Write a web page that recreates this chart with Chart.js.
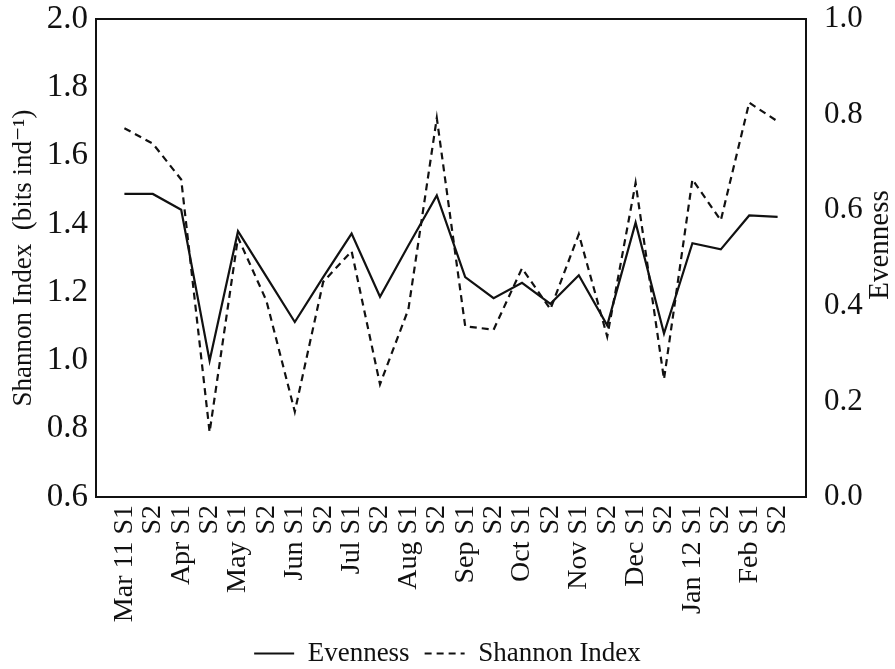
<!DOCTYPE html>
<html>
<head>
<meta charset="utf-8">
<script src="https://cdn.jsdelivr.net/npm/chart.js@4.4.1/dist/chart.umd.min.js"></script>
<style>
  html, body { margin: 0; padding: 0; background: #fff; }
  canvas { display: block; }
</style>
</head>
<body>
<canvas id="myChart" width="895" height="669"></canvas>
<script>
// sampling periods (two samples per month)
var categories = ['Mar 11 S1', 'S2', 'Apr S1', 'S2', 'May S1', 'S2', 'Jun S1', 'S2',
                  'Jul S1', 'S2', 'Aug S1', 'S2', 'Sep S1', 'S2', 'Oct S1', 'S2',
                  'Nov S1', 'S2', 'Dec S1', 'S2', 'Jan 12 S1', 'S2', 'Feb S1', 'S2'];

var evenness = [0.634, 0.634, 0.601, 0.285, 0.556, 0.461, 0.366, 0.46,
                0.551, 0.419, 0.526, 0.631, 0.46, 0.416, 0.448, 0.404,
                0.464, 0.359, 0.574, 0.342, 0.531, 0.518, 0.589, 0.586];

var shannon = [1.68, 1.635, 1.53, 0.79, 1.36, 1.175, 0.85, 1.23,
               1.32, 0.93, 1.15, 1.71, 1.10, 1.09, 1.27, 1.15,
               1.37, 1.07, 1.52, 0.945, 1.53, 1.41, 1.755, 1.70];

var shannonTicks = [0.6, 0.8, 1.0, 1.2, 1.4, 1.6, 1.8, 2.0];
var evennessTicks = [0.0, 0.2, 0.4, 0.6, 0.8, 1.0];

// one empty slot on each side of the series
var labels = [''].concat(categories, ['']);
var pad = function (arr) { return [null].concat(arr, [null]); };
var toTicks = function (arr) { return arr.map(function (v) { return { value: v }; }); };

var serif = '"Liberation Serif", "DejaVu Serif", serif';
var ink = '#111';

// frame around the plot area + right axis title reading bottom to top
var frame = {
  id: 'frame',
  afterDatasetsDraw: function (chart) {
    var a = chart.chartArea, c = chart.ctx;
    c.save();
    c.strokeStyle = ink;
    c.lineWidth = 2;
    c.strokeRect(a.left, a.top, a.right - a.left, a.bottom - a.top);
    c.translate(880, (a.top + a.bottom) / 2 - 13);
    c.rotate(-Math.PI / 2);
    c.fillStyle = ink;
    c.font = '29px ' + serif;
    c.textAlign = 'center';
    c.textBaseline = 'middle';
    c.fillText('Evenness', 0, 0);
    c.restore();
  }
};

// fixed axis widths; keep the tick padding from pushing the plot down
var fitY = function (w) {
  return function (s) {
    s.width = w;
    s.paddingTop = 19;
    s.paddingBottom = 0;
  };
};

var ctx = document.getElementById('myChart').getContext('2d');
var chart = new Chart(ctx, {
  type: 'line',
  data: {
    labels: labels,
    datasets: [{
      label: 'Evenness',
      data: pad(evenness),
      yAxisID: 'y1',
      borderColor: ink,
      borderWidth: 2.2,
      pointRadius: 0,
      tension: 0,
      fill: false
    }, {
      label: 'Shannon Index',
      data: pad(shannon),
      yAxisID: 'y',
      borderColor: ink,
      borderWidth: 2.2,
      borderDash: [7, 5],
      pointRadius: 0,
      tension: 0,
      fill: false
    }]
  },
  plugins: [frame],
  options: {
    responsive: false,
    animation: false,
    devicePixelRatio: 1,
    layout: { padding: { top: 0, left: 0, right: 0, bottom: -8 } },
    plugins: {
      tooltip: { enabled: false },
      legend: {
        position: 'bottom',
        labels: {
          usePointStyle: true,
          pointStyle: 'line',
          pointStyleWidth: 40,
          color: ink,
          padding: 15,
          font: { family: serif, size: 27 },
          generateLabels: function (chart) {
            return chart.data.datasets.map(function (ds, i) {
              return {
                text: ds.label,
                datasetIndex: i,
                pointStyle: 'line',
                strokeStyle: ink,
                fillStyle: ink,
                fontColor: ink,
                lineWidth: 2,
                lineDash: ds.borderDash || [],
                hidden: false
              };
            });
          }
        }
      }
    },
    scales: {
      x: {
        offset: false,
        grid: { display: false, drawTicks: false },
        border: { display: false },
        ticks: {
          autoSkip: false,
          maxRotation: 90,
          minRotation: 90,
          padding: 8,
          color: ink,
          font: { family: serif, size: 28 }
        },
        afterFit: function (s) { s.height = 128; }
      },
      y: {
        position: 'left',
        min: 0.6,
        max: 2.0,
        afterBuildTicks: function (s) { s.ticks = toTicks(shannonTicks); },
        grid: { display: false, drawTicks: false },
        border: { display: false },
        ticks: {
          padding: 8,
          color: ink,
          font: { family: serif, size: 33 },
          callback: function (v) { return Number(v).toFixed(1); }
        },
        title: {
          display: true,
          text: 'Shannon Index  (bits ind\u207B\u00B9)',
          color: ink,
          padding: { top: 8, bottom: 0 },
          font: { family: serif, size: 27 }
        },
        afterFit: fitY(96)
      },
      y1: {
        position: 'right',
        min: 0,
        max: 1,
        afterBuildTicks: function (s) { s.ticks = toTicks(evennessTicks); },
        grid: { display: false, drawTicks: false },
        border: { display: false },
        ticks: {
          padding: 18,
          color: ink,
          font: { family: serif, size: 31 },
          callback: function (v) { return Number(v).toFixed(1); }
        },
        afterFit: fitY(89)
      }
    }
  }
});
</script>
</body>
</html>
